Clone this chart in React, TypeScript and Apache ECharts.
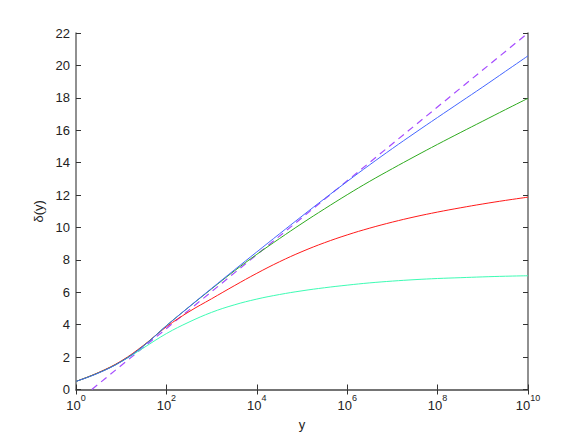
import React, { useEffect, useRef } from "react";
import * as echarts from "echarts";

// decades (log10 of y) at which the curves are sampled
const logY = [0, 0.5, 1, 1.5, 2, 2.5, 3, 3.5, 4, 4.5, 5, 5.5, 6, 6.5, 7, 7.5, 8, 8.5, 9, 9.5, 10];

const blueVals = [0.5, 1.02, 1.72, 2.7, 3.93, 5.1, 6.24, 7.37, 8.49, 9.6, 10.7, 11.78, 12.84, 13.87, 14.87, 15.84, 16.79, 17.73, 18.67, 19.63, 20.59];
const greenVals = [0.5, 1.03, 1.73, 2.71, 3.94, 5.09, 6.21, 7.31, 8.34, 9.31, 10.25, 11.15, 12.02, 12.85, 13.63, 14.39, 15.13, 15.85, 16.56, 17.27, 17.97];
const redVals = [0.5, 1.05, 1.76, 2.74, 3.87, 4.8, 5.6, 6.4, 7.17, 7.88, 8.51, 9.06, 9.54, 9.96, 10.33, 10.66, 10.95, 11.21, 11.45, 11.67, 11.87];
const cyanVals = [0.5, 1.04, 1.72, 2.58, 3.45, 4.16, 4.76, 5.22, 5.58, 5.86, 6.09, 6.28, 6.44, 6.58, 6.69, 6.78, 6.85, 6.9, 6.95, 6.99, 7.02];

// asymptotic log-law (dashed): endpoints
const dashedLogY = [0.35, 10];
const dashedVals = [0, 22];

const yTicks = [0, 2, 4, 6, 8, 10, 12, 14, 16, 18, 20, 22];

const FONT = "'Liberation Sans', Arial, sans-serif";

function pairs(xs: number[], ys: number[]) {
  return xs.map((e, i) => [Math.pow(10, e), ys[i]]);
}

export default function App() {
  const ref = useRef<HTMLDivElement>(null);
  useEffect(() => {
    if (!ref.current) return;
    const chart = echarts.init(ref.current, undefined, { renderer: "svg" });
    const axisLine = { show: true, lineStyle: { color: "#6b6b6b", width: 1.5 } };
    const tick = { show: true, inside: true, length: 5, lineStyle: { color: "#333", width: 1 } };
    const curve = (vals: number[], color: string) => ({
      type: "line",
      data: pairs(logY, vals),
      showSymbol: false,
      smooth: 0.4,
      lineStyle: { color, width: 1 },
      clip: true,
    });
    const option: any = {
      animation: false,
      backgroundColor: "#ffffff",
      grid: { left: 76, right: 56, top: 33, bottom: 49.5, containLabel: false },
      xAxis: [
        {
          type: "log",
          logBase: 10,
          min: 1,
          max: 1e10,
          interval: 2,
          position: "bottom",
          name: "y",
          nameLocation: "middle",
          nameGap: 28,
          nameTextStyle: { fontFamily: FONT, fontSize: 13, color: "#222" },
          axisLine,
          axisTick: tick,
          splitLine: { show: false },
          minorTick: { show: false },
          axisLabel: {
            margin: 4,
            formatter: (v: number) => "{b|10}{s|" + Math.round(Math.log10(v)) + "}",
            rich: {
              b: { fontFamily: FONT, fontSize: 13, color: "#222", lineHeight: 24 },
              s: { fontFamily: FONT, fontSize: 9, color: "#222", verticalAlign: "top" },
            },
          },
        },
        {
          type: "log",
          logBase: 10,
          min: 1,
          max: 1e10,
          interval: 2,
          position: "top",
          axisLine,
          axisTick: tick,
          axisLabel: { show: false },
          splitLine: { show: false },
        },
      ],
      yAxis: [
        {
          type: "value",
          min: 0,
          max: 22,
          interval: 2,
          position: "left",
          name: "δ(y)",
          nameLocation: "middle",
          nameRotate: 90,
          nameGap: 30,
          nameTextStyle: { fontFamily: FONT, fontSize: 13, color: "#222" },
          axisLine,
          axisTick: tick,
          splitLine: { show: false },
          axisLabel: {
            margin: 6,
            fontFamily: FONT,
            fontSize: 13,
            color: "#222",
            formatter: (v: number) => (yTicks.includes(v) ? String(v) : ""),
          },
        },
        {
          type: "value",
          min: 0,
          max: 22,
          interval: 2,
          position: "right",
          axisLine,
          axisTick: tick,
          axisLabel: { show: false },
          splitLine: { show: false },
        },
      ],
      series: [
        {
          type: "line",
          data: pairs(dashedLogY, dashedVals),
          showSymbol: false,
          lineStyle: { color: "#a64dff", width: 1.2, type: [7, 5] },
          clip: true,
        },
        curve(cyanVals, "#3dfcb4"),
        curve(redVals, "#ff1a1a"),
        curve(greenVals, "#2eaa1e"),
        curve(blueVals, "#4466ff"),
      ],
    };
    chart.setOption(option);
    return () => chart.dispose();
  }, []);
  return (
    <div
      ref={ref}
      style={{ position: "fixed", left: 0, top: 0, width: 584, height: 439, background: "#fff" }}
    />
  );
}
